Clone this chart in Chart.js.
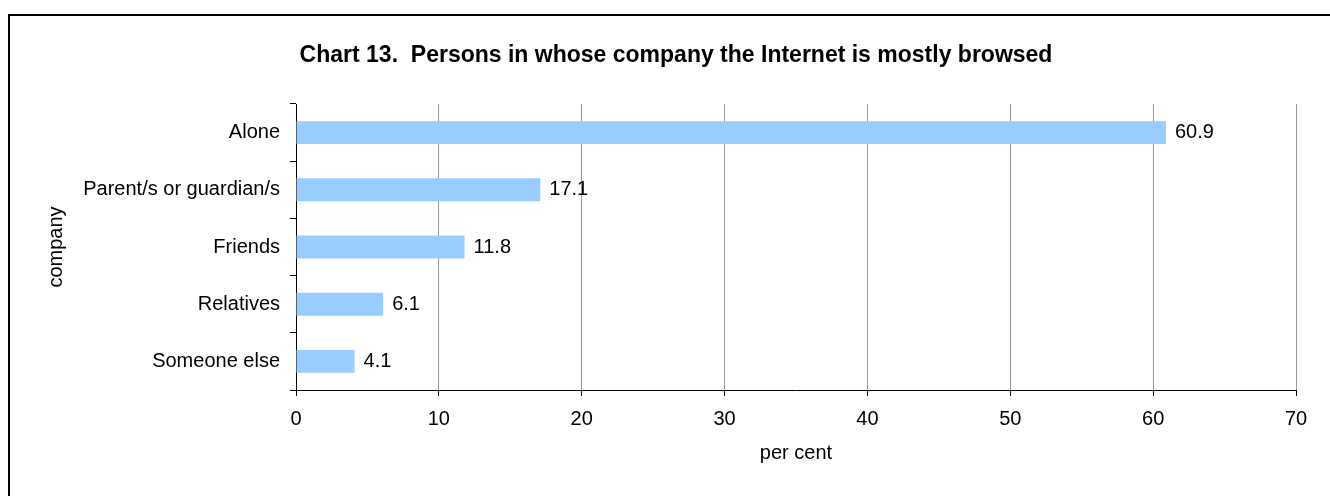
<!DOCTYPE html>
<html>
<head>
<meta charset="utf-8">
<script src="https://cdn.jsdelivr.net/npm/chart.js@4.4.0/dist/chart.umd.min.js"></script>
<style>
  html, body { margin: 0; padding: 0; width: 1330px; height: 496px; overflow: hidden; background: #fff; }
  #frame { position: absolute; left: 8px; top: 14px; width: 1500px; height: 700px; border: 2px solid #000; box-sizing: border-box; }
  #c { position: absolute; left: 0; top: 0; }
</style>
</head>
<body>
<div id="frame"></div>
<canvas id="c" width="1330" height="496"></canvas>
<script>
const chartTitle = 'Chart 13.  Persons in whose company the Internet is mostly browsed';
const categories = ['Alone', 'Parent/s or guardian/s', 'Friends', 'Relatives', 'Someone else'];
const values = [60.9, 17.1, 11.8, 6.1, 4.1];
const xTicks = [0, 10, 20, 30, 40, 50, 60, 70];
const xAxisTitle = 'per cent';
const yAxisTitle = 'company';

const FONT = "'Liberation Sans', Arial, Helvetica, sans-serif";
Chart.defaults.font.family = FONT;
Chart.defaults.color = '#000';

const titlePlugin = {
  id: 'fixedTitle',
  afterDraw(chart) {
    const ctx = chart.ctx;
    ctx.save();
    ctx.font = 'bold 23px ' + FONT;
    ctx.fillStyle = '#000';
    ctx.textAlign = 'center';
    ctx.textBaseline = 'middle';
    ctx.fillText(chartTitle, 676, 56);
    ctx.restore();
  }
};

const valueLabels = {
  id: 'valueLabels',
  afterDatasetsDraw(chart) {
    const ctx = chart.ctx;
    const meta = chart.getDatasetMeta(0);
    ctx.save();
    ctx.font = '20px ' + FONT;
    ctx.fillStyle = '#000';
    ctx.textAlign = 'left';
    ctx.textBaseline = 'middle';
    meta.data.forEach((el, i) => {
      ctx.fillText(values[i].toFixed(1), el.x + 9, el.y);
    });
    ctx.restore();
  }
};

new Chart(document.getElementById('c'), {
  type: 'bar',
  data: {
    labels: categories,
    datasets: [{
      data: values,
      backgroundColor: '#99CCFF',
      borderWidth: 0,
      barPercentage: 0.4,
      categoryPercentage: 1.0
    }]
  },
  options: {
    indexAxis: 'y',
    responsive: false,
    animation: false,
    layout: { padding: { left: 40, right: 34, top: 104, bottom: 0 } },
    plugins: {
      legend: { display: false },
      title: { display: false },
      tooltip: { enabled: false }
    },
    scales: {
      x: {
        type: 'linear',
        min: 0,
        max: 70,
        afterBuildTicks(scale) { scale.ticks = xTicks.map(v => ({ value: v })); },
        afterFit(scale) { scale.height = 106; },
        ticks: { font: { size: 20 }, color: '#000', padding: 11, maxRotation: 0 },
        grid: {
          color: (c) => (c.tick && c.tick.value === 0) ? '#000' : '#999999',
          lineWidth: 1,
          tickColor: '#000',
          tickLength: 6,
          drawTicks: true
        },
        border: { color: '#000', width: 1 },
        title: { display: true, text: xAxisTitle, font: { size: 20 }, color: '#000', padding: { top: 4, bottom: 31 } }
      },
      y: {
        type: 'category',
        afterFit(scale) { scale.width = 256; },
        ticks: { font: { size: 20 }, color: '#000', padding: 10 },
        grid: {
          offset: true,
          drawOnChartArea: false,
          drawTicks: true,
          tickLength: 6,
          tickColor: '#000',
          color: '#000'
        },
        border: { color: '#000', width: 1 },
        title: { display: true, text: yAxisTitle, font: { size: 20 }, color: '#000', padding: { top: 4, bottom: 4 } }
      }
    }
  },
  plugins: [titlePlugin, valueLabels]
});
</script>
</body>
</html>
